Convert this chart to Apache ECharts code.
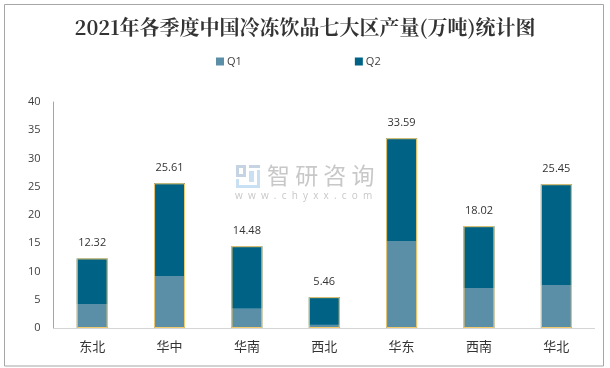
<!DOCTYPE html>
<html><head><meta charset="utf-8">
<style>html,body{margin:0;padding:0;background:#fff}#c{width:610px;height:368px}</style>
<script src="https://cdn.jsdelivr.net/npm/echarts@6/dist/echarts.min.js"></script>
</head><body><div id="c"></div>
<script>
const titleText = '2021年各季度中国冷冻饮品七大区产量(万吨)统计图';
const categories = ['东北','华中','华南','西北','华东','西南','华北'];
const q1 = [4.25,9.2,3.4,0.55,15.4,7.1,7.6];
const q2 = [8.07,16.41,11.08,4.91,18.19,10.92,17.85];
const totals = [12.32,25.61,14.48,5.46,33.59,18.02,25.45];
const chart = echarts.init(document.getElementById('c'));
chart.setOption({
  animation:false,
  backgroundColor:'#fff',
  title:{text:titleText,left:'center',top:12,
    textStyle:{fontFamily:'"Noto Serif CJK SC","Noto Sans CJK SC",serif',fontSize:20,fontWeight:'bold',color:'#333'}},
  legend:{top:51,left:211,itemGap:113,itemWidth:8,itemHeight:8,icon:'rect',
    textStyle:{fontFamily:'"Open Sans","Noto Sans CJK SC"',fontSize:11,color:'#404040',padding:[0,0,0,-2]},
    data:['Q1','Q2']},
  grid:{left:53.5,right:15,top:102,bottom:40,containLabel:false},
  xAxis:{type:'category',data:categories,
    axisLine:{lineStyle:{color:'#d0d0d0',width:1,type:'dotted'}},axisTick:{show:false},
    axisLabel:{margin:12,fontFamily:'"Noto Sans CJK SC"',fontSize:13,color:'#333'}},
  yAxis:{type:'value',min:0,max:40,interval:5,splitLine:{show:false},
    axisLine:{show:true,lineStyle:{color:'#a6a6a6'}},axisTick:{show:false},
    axisLabel:{margin:13,fontFamily:'"Open Sans"',fontSize:11,color:'#404040'}},
  series:[
    {name:'Q1',type:'bar',stack:'a',barWidth:'40%',barGap:'-100%',data:q1,itemStyle:{color:'#5b8fa8'}},
    {name:'Q2',type:'bar',stack:'a',barWidth:'40%',barGap:'-100%',data:q2,itemStyle:{color:'#006386'}},
    {name:'合计',type:'bar',barWidth:'40%',barGap:'-100%',data:totals,z:3,
      itemStyle:{color:'rgba(0,0,0,0)',borderColor:'#f2c96d',borderWidth:1},
      label:{show:true,position:'top',distance:10,fontFamily:'"Open Sans"',fontSize:11,color:'#333',
        formatter:p=>p.value.toFixed(2)}}
  ],
  graphic:[
    {type:'rect',silent:true,shape:{x:4.5,y:4.5,width:599,height:361.5},style:{fill:'none',stroke:'#a6a6a6',lineWidth:1},z:-1},
    {type:'rect',shape:{x:236,y:165,width:10,height:3},style:{fill:'#c5d3e3'},z:1},
    {type:'rect',shape:{x:236,y:165,width:3,height:12},style:{fill:'#c5d3e3'},z:1},
    {type:'rect',shape:{x:243,y:165,width:3,height:12},style:{fill:'#c5d3e3'},z:1},
    {type:'rect',shape:{x:236,y:174,width:10,height:3},style:{fill:'#c5d3e3'},z:1},
    {type:'rect',shape:{x:249,y:165,width:11,height:3},style:{fill:'#c5d3e3'},z:1},
    {type:'rect',shape:{x:257,y:170,width:3,height:18},style:{fill:'#c9e0f2'},z:1},
    {type:'rect',shape:{x:236,y:185,width:24,height:3},style:{fill:'#c9e0f2'},z:1},
    {type:'rect',shape:{x:236,y:179,width:3,height:9},style:{fill:'#c9e0f2'},z:1},
    {type:'rect',shape:{x:249,y:171,width:5,height:11},style:{fill:'#c9e0f2'},z:1},
    {type:'text',style:{x:267,y:164,text:'智 研 咨 询',font:'23px "Noto Sans CJK SC"',fill:'#c8c8c8'},z:1},
    {type:'text',style:{x:235,y:191,text:'w  w  w  .  c  h  y  x  x  .  c  o  m',font:'10px "Open Sans"',fill:'#c8c8c8'},z:1}
  ]
});
</script></body></html>
